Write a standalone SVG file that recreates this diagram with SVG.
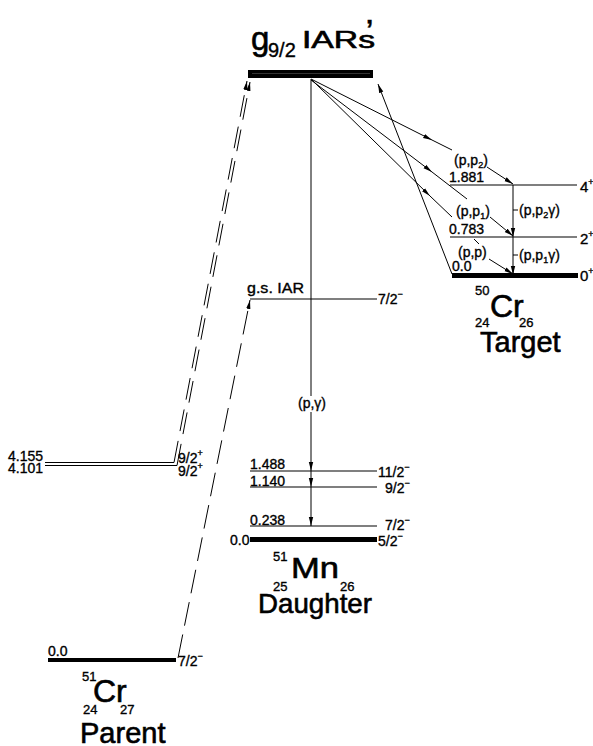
<svg xmlns="http://www.w3.org/2000/svg" width="593" height="746" viewBox="0 0 593 746">
<style>
.t{font-family:"Liberation Sans",Arial,sans-serif;fill:#000;stroke:#000;stroke-width:0.35}
.s{font-size:14px}
.sm{font-size:13px}
.big{stroke-width:0.6}
.c{fill:none;stroke:#000;stroke-width:1}
.lv{fill:none;stroke:#000;stroke-width:1.2}
.thick{fill:#000}
</style>
<defs>
<marker id="ah" viewBox="0 0 10 10" refX="10" refY="5" markerWidth="9" markerHeight="9" markerUnits="userSpaceOnUse" orient="auto"><path d="M0,2.6 L10,5 L0,7.4 z" fill="#000"/></marker>
</defs>
<rect width="593" height="746" fill="#fff"/>

<g id="iar">
<rect x="248" y="70" width="125" height="8" class="thick"/>
<line x1="252" y1="73.5" x2="370" y2="73.5" stroke="#555" stroke-width="0.6"/>
<text class="t big" x="251" y="50" font-size="33">g</text>
<text class="t" x="268" y="57" font-size="20">9/2</text>
<text class="t big" x="302" y="48" font-size="23" textLength="73" lengthAdjust="spacingAndGlyphs">IARs</text>
<text class="t" x="366" y="38" font-size="26" font-weight="bold">’</text>
</g>

<g id="gsiar">
<line x1="250" y1="299" x2="377" y2="299" class="lv"/>
<text class="t s" x="247" y="293" textLength="57" lengthAdjust="spacingAndGlyphs">g.s. IAR</text>
<text class="t s" x="378" y="304">7/2<tspan font-size="9" dy="-7">−</tspan></text>
</g>

<g id="target">
<line x1="450" y1="185" x2="577" y2="185" class="lv"/>
<line x1="450" y1="237" x2="577" y2="237" class="lv"/>
<rect x="452" y="273" width="126" height="5" class="thick"/>
<text class="t s" x="449" y="182">1.881</text>
<text class="t s" x="449" y="234">0.783</text>
<text class="t s" x="452" y="271">0.0</text>
<text class="t" font-size="15" x="580" y="192">4<tspan font-size="9" dy="-7">+</tspan></text>
<text class="t" font-size="15" x="580" y="244">2<tspan font-size="9" dy="-7">+</tspan></text>
<text class="t" font-size="15" x="580" y="281">0<tspan font-size="9" dy="-7">+</tspan></text>
<text class="t s" x="454" y="165">(p,p<tspan font-size="9" dy="3">2</tspan><tspan dy="-3">)</tspan></text>
<text class="t s" x="456" y="216">(p,p<tspan font-size="9" dy="3">1</tspan><tspan dy="-3">)</tspan></text>
<text class="t s" x="458" y="257">(p,p)</text>
<text class="t s" x="519" y="215">(p,p<tspan font-size="9" dy="3">2</tspan><tspan dy="-3">γ)</tspan></text>
<text class="t s" x="519" y="260">(p,p<tspan font-size="9" dy="3">1</tspan><tspan dy="-3">γ)</tspan></text>
<text class="t sm" x="475" y="295">50</text>
<text class="t big" x="490" y="317" font-size="32">Cr</text>
<text class="t sm" x="475" y="327">24</text>
<text class="t sm" x="519" y="327">26</text>
<text class="t big" x="480" y="352" font-size="29">Target</text>
</g>

<g id="daughter">
<line x1="250" y1="471" x2="377" y2="471" class="lv"/>
<line x1="250" y1="487" x2="377" y2="487" class="lv"/>
<line x1="250" y1="526" x2="377" y2="526" class="lv"/>
<rect x="250" y="537" width="127" height="5" class="thick"/>
<text class="t s" x="250" y="469">1.488</text>
<text class="t s" x="250" y="485.5">1.140</text>
<text class="t s" x="250" y="524.5">0.238</text>
<text class="t s" x="230" y="545">0.0</text>
<text class="t s" x="378" y="477">11/2<tspan font-size="9" dy="-7">−</tspan></text>
<text class="t s" x="385" y="493">9/2<tspan font-size="9" dy="-7">−</tspan></text>
<text class="t s" x="385" y="530">7/2<tspan font-size="9" dy="-7">−</tspan></text>
<text class="t s" x="378" y="546">5/2<tspan font-size="9" dy="-7">−</tspan></text>
<text class="t sm" x="273" y="561">51</text>
<text class="t big" x="291" y="578" font-size="30" textLength="48" lengthAdjust="spacingAndGlyphs">Mn</text>
<text class="t sm" x="273" y="591">25</text>
<text class="t sm" x="340" y="591">26</text>
<text class="t big" x="258" y="613" font-size="28" textLength="114" lengthAdjust="spacingAndGlyphs">Daughter</text>
</g>

<g id="parent-excited">
<line x1="45" y1="462.5" x2="174" y2="462.5" class="c"/>
<line x1="45" y1="465.5" x2="177" y2="465.5" class="c"/>
<text class="t s" x="8" y="461">4.155</text>
<text class="t s" x="8" y="473">4.101</text>
<text class="t s" x="178" y="463">9/2<tspan font-size="9" dy="-7">+</tspan></text>
<text class="t s" x="178" y="476">9/2<tspan font-size="9" dy="-7">+</tspan></text>
</g>

<g id="parent">
<rect x="48" y="658" width="128" height="4" class="thick"/>
<text class="t s" x="48" y="656">0.0</text>
<text class="t s" x="178" y="666">7/2<tspan font-size="9" dy="-7">−</tspan></text>
<text class="t sm" x="82" y="681">51</text>
<text class="t big" x="93" y="702" font-size="32">Cr</text>
<text class="t sm" x="83" y="714">24</text>
<text class="t sm" x="120" y="714">27</text>
<text class="t big" x="80" y="743" font-size="29">Parent</text>
</g>

<g id="connectors">
<path class="c" d="M311,79 L432,140 L452,150" marker-mid="url(#ah)"/>
<path class="c" d="M487,167 L513,184" marker-end="url(#ah)"/>
<path class="c" d="M311,80 L432,172 L467,199" marker-mid="url(#ah)"/>
<path class="c" d="M490,217 L513,236" marker-end="url(#ah)"/>
<path class="c" d="M312,80 L430,196 L452,217" marker-mid="url(#ah)"/>
<path class="c" d="M474,239 L479,244"/>
<path class="c" d="M489,259 L513,274" marker-end="url(#ah)"/>
<path class="c" d="M452,274 L378,84" marker-end="url(#ah)"/>
<path class="c" d="M311,79 L311,396"/>
<text class="t s" x="298" y="408">(p,γ)</text>
<path class="c" d="M311,412 L311,471 L311,487 L311,526" marker-mid="url(#ah)" marker-end="url(#ah)"/>
<path class="c" d="M513,185 L513,237 L513,275" marker-mid="url(#ah)" marker-end="url(#ah)"/>
<path class="c" d="M513,210 H518 M513,255 H518"/>
<path class="c" d="M174,462.5 L247,81" stroke-dasharray="22 10" marker-end="url(#ah)"/>
<path class="c" d="M177,465.5 L250,82" stroke-dasharray="22 10" marker-end="url(#ah)"/>
<path class="c" d="M178,658 L250,300" stroke-dasharray="24 9" marker-end="url(#ah)"/>
</g>
</svg>
